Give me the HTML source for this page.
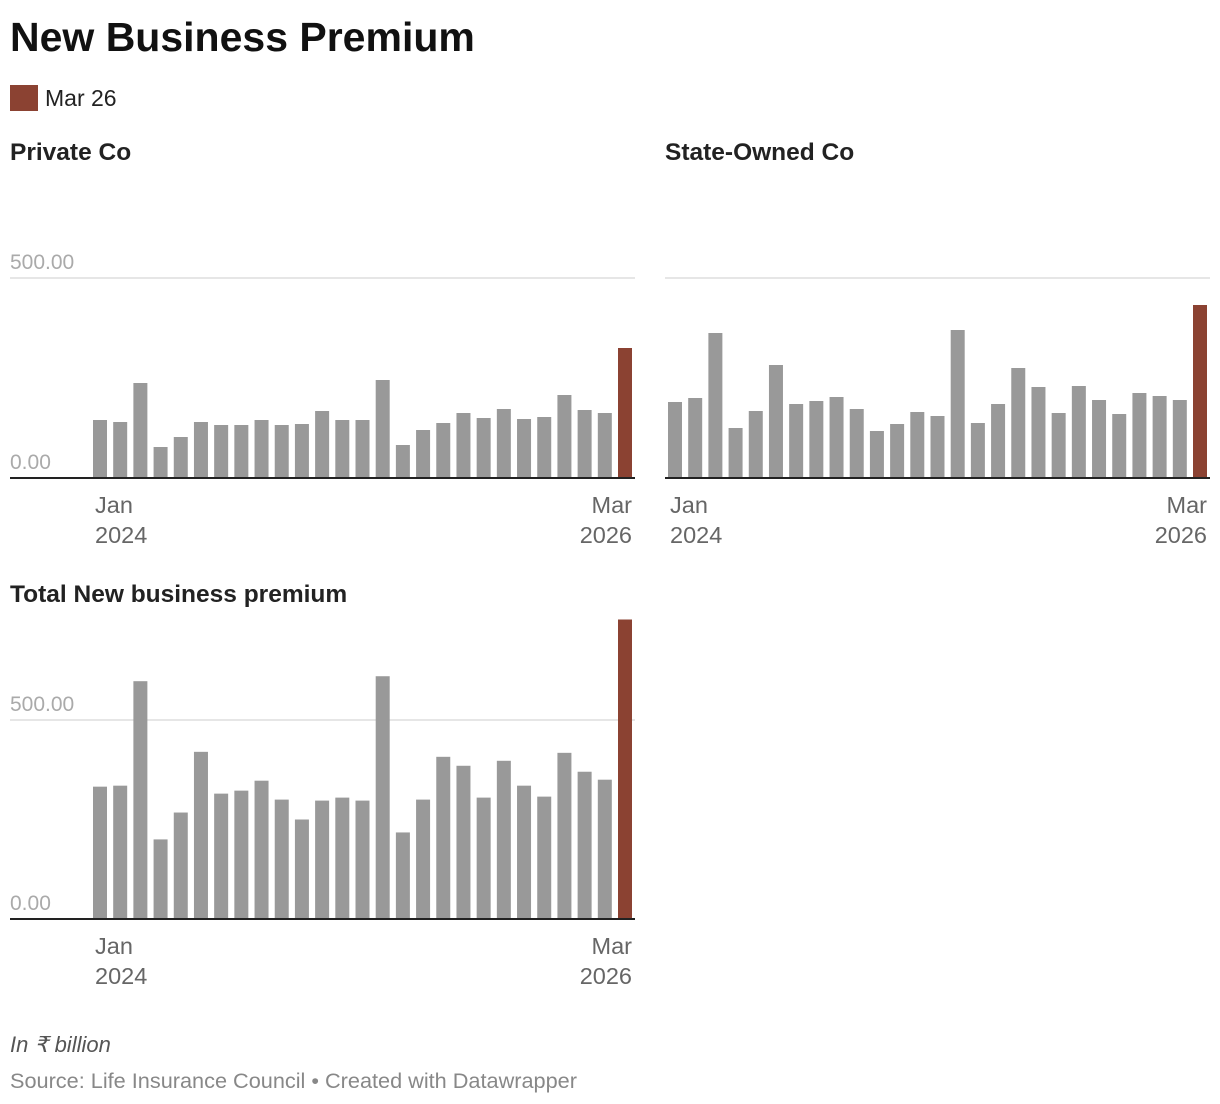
<!DOCTYPE html>
<html><head><meta charset="utf-8"><style>
body{margin:0;background:#fff;font-family:"Liberation Sans",sans-serif;}
svg{position:absolute;left:0;top:0}
</style></head><body>
<svg id="c" width="1220" height="1104">
<text x="10" y="51" font-size="41" font-weight="bold" fill="#111">New Business Premium</text>
<rect x="10" y="85" width="28" height="26" fill="#8b4232"/>
<text x="45" y="106" font-size="23" fill="#222">Mar 26</text>
<text x="10" y="160" font-size="24.5" font-weight="bold" fill="#222">Private Co</text>
<text x="665" y="160" font-size="24.5" font-weight="bold" fill="#222">State-Owned Co</text>
<text x="10" y="602" font-size="24.5" font-weight="bold" fill="#222">Total New business premium</text>
<text x="10" y="1052" font-size="22" font-style="italic" fill="#555">In ₹ billion</text>
<text x="10" y="1088" font-size="21.7" fill="#888">Source: Life Insurance Council • Created with Datawrapper</text>
</svg>
<script>
const privateValues=[145,140,237.5,77.5,102.5,140,132.5,132.5,145,132.5,135,167.5,145,145,245,82.5,120,137.5,162.5,150,172.5,147.5,152.5,207.5,170,162.5,325];
const stateValues=[190,200,362.5,125,167.5,282.5,185,192.5,202.5,172.5,117.5,135,165,155,370,137.5,185,275,227.5,162.5,230,195,160,212.5,205,195,432.5];
const totalValues=[332.5,335,597.5,200,267.5,420,315,322.5,347.5,300,250,297.5,305,297.5,610,217.5,300,407.5,385,305,397.5,335,307.5,417.5,370,350,752.5];
const yTicks=[0,500];
const yTickLabels=["0.00","500.00"];
const svg=document.getElementById('c');
const NS='http://www.w3.org/2000/svg';
function mk(tag,attrs){const e=document.createElementNS(NS,tag);for(const k in attrs)e.setAttribute(k,attrs[k]);svg.appendChild(e);return e;}
function draw(prefix,vals,left,right,barL,barR,base,grid,showTicks){
  const y=v=>base-(base-grid)*v/500;
  yTicks.forEach((t,i)=>{
    if(t>0){const g=mk('line',{x1:left,x2:right,y1:y(t),y2:y(t),stroke:'#ddd','stroke-width':1.5});
    
    }
    if(showTicks){const tx=mk('text',{x:left,y:y(t)-9,'font-size':21,fill:'#aaa'});tx.textContent=yTickLabels[i];
    
    }
  });
  const n=vals.length,bw=14,pitch=(barR-barL-bw)/(n-1);
  vals.forEach((v,i)=>{
    const r=mk('rect',{x:barL+i*pitch,y:y(v),width:bw,height:base-y(v),fill:i==n-1?'#8b4232':'#999'});
    
    
  });
  const b=mk('line',{x1:left,x2:right,y1:base,y2:base,stroke:'#222','stroke-width':2});
  
  
  [['Jan','2024',barL+2,'start'],['Mar','2026',barR,'end']].forEach(a=>{
    [a[0],a[1]].forEach((s,j)=>{const t=mk('text',{x:a[2],y:base+35+j*30,'font-size':23.5,fill:'#666','text-anchor':a[3]});t.textContent=s;
    
    });
  });
}
draw('private',privateValues,10,635,93,632,478,278,true);
draw('state',stateValues,665,1210,668,1207,478,278,false);
draw('total',totalValues,10,635,93,632,919,720,true);
</script>
</body></html>
